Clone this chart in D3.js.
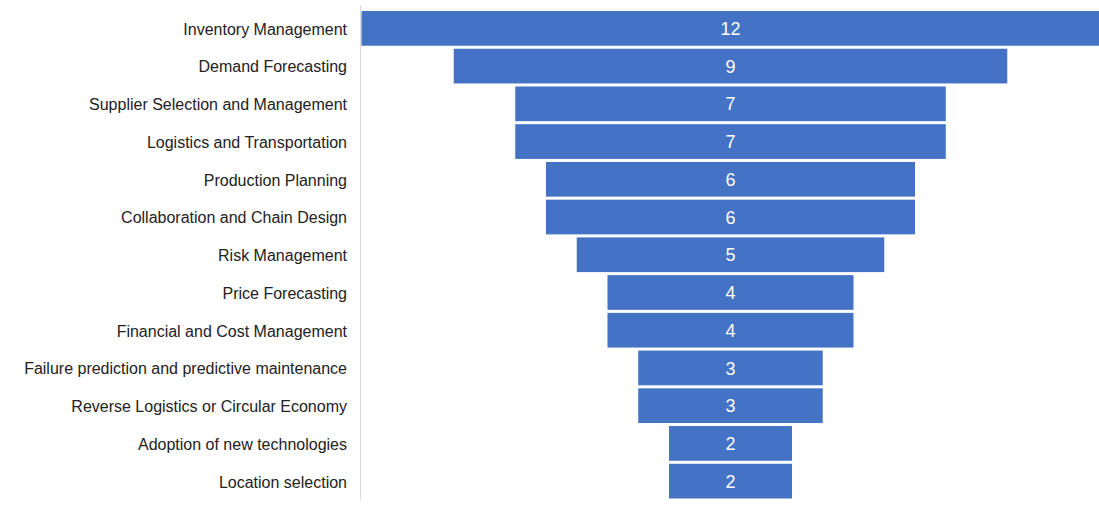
<!DOCTYPE html>
<head>
  <script src="https://cdn.jsdelivr.net/npm/d3@7"></script>
  <title>Funnel</title>
  <style>
    body { margin: 0; background: #fff; }
    text { font-family: "Liberation Sans", Arial, sans-serif; }
  </style>
</head>
<body>
<div id="chart"></div>
<script>
  const categories = [
    "Inventory Management",
    "Demand Forecasting",
    "Supplier Selection and Management",
    "Logistics and Transportation",
    "Production Planning",
    "Collaboration and Chain Design",
    "Risk Management",
    "Price Forecasting",
    "Financial and Cost Management",
    "Failure prediction and predictive maintenance",
    "Reverse Logistics or Circular Economy",
    "Adoption of new technologies",
    "Location selection"
  ];
  const counts = [12, 9, 7, 7, 6, 6, 5, 4, 4, 3, 3, 2, 2];

  const width = 1099, height = 508;
  const axisX = 360.5;
  const center = 730.5;

  const svg = d3.select("#chart").append("svg")
      .attr("width", width).attr("height", height);

  const y = d3.scaleBand()
      .domain(categories)
      .range([9.5, 500])
      .paddingInner(0.08)
      .paddingOuter(0.04);

  // bar width scale, bars are centred on the funnel axis
  const w = d3.scaleLinear().domain([0, 12]).range([0, 738]);

  svg.append("line")
      .attr("x1", axisX).attr("x2", axisX)
      .attr("y1", 5).attr("y2", 500)
      .attr("stroke", "#d9d9d9");

  const rows = svg.append("g").selectAll("g")
    .data(categories)
    .join("g");

  rows.append("rect")
      .attr("x", (d, i) => center - w(counts[i]) / 2)
      .attr("y", d => y(d))
      .attr("width", (d, i) => w(counts[i]))
      .attr("height", y.bandwidth())
      .attr("fill", "#4472c4");

  rows.append("text")
      .attr("x", center)
      .attr("y", d => y(d) + y.bandwidth() / 2)
      .attr("dy", "0.37em")
      .attr("text-anchor", "middle")
      .attr("fill", "#fff")
      .attr("font-size", 18)
      .text((d, i) => counts[i]);

  rows.append("text")
      .attr("x", 347)
      .attr("y", d => y(d) + y.bandwidth() / 2)
      .attr("dy", "0.4em")
      .attr("text-anchor", "end")
      .attr("fill", "#222")
      .attr("font-size", 16)
      .attr("textLength", null)
      .text(d => d);
</script>
</body>
